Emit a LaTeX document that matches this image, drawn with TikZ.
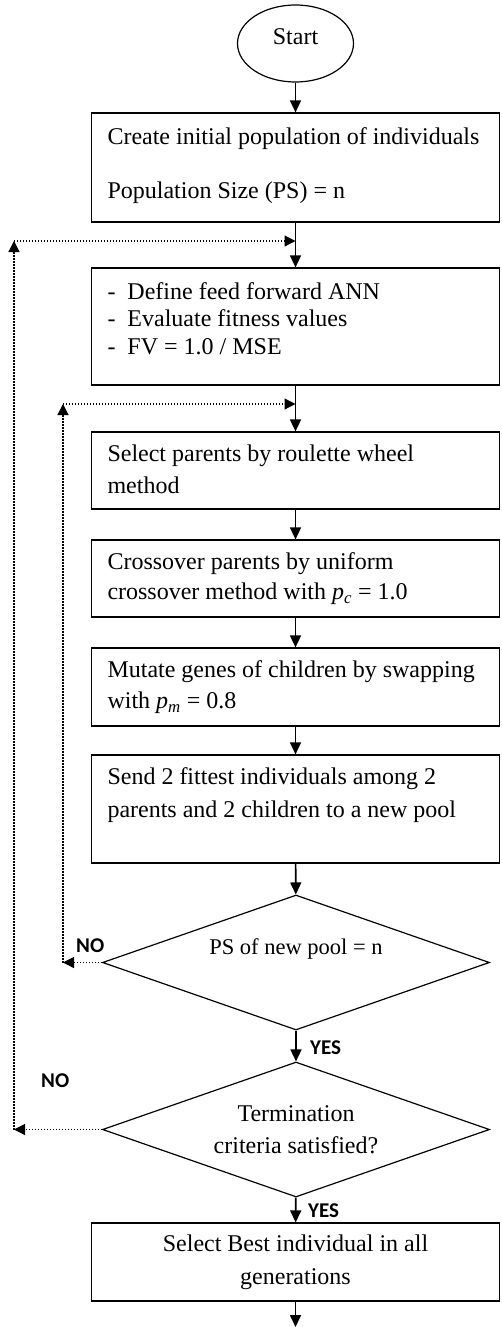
\documentclass[tikz,border=0pt]{standalone}
\usepackage{fontspec}
\setmainfont{Liberation Serif}
\newfontfamily\answersans{Carlito}
\usepackage{tikz}
\usetikzlibrary{arrows.meta, shapes.geometric}
\newcommand{\lift}[1]{\rule[-#1]{0pt}{#1}}
\newcommand{\itemdash}{\makebox[20pt][l]{-}}

\begin{document}
\begin{tikzpicture}[x=1pt, y=-1pt,
  stepbox/.style={draw, line width=1.2pt, inner xsep=16pt, inner ysep=2pt, text width=376pt, align=flush left, font=\fontsize{24}{27.5}\selectfont},
  decision/.style={diamond, draw, line width=1.2pt, aspect=2.87, minimum width=387pt, minimum height=135pt, inner sep=2pt, align=flush center, font=\fontsize{24}{32}\selectfont},
  startnode/.style={ellipse, draw, line width=1.2pt, minimum width=116pt, minimum height=77pt, inner sep=2pt, font=\fontsize{24}{27.5}\selectfont},
  flow/.style={-{Triangle[length=12pt,width=11pt]}, line width=1.6pt},
  loopline/.style={-{Triangle[length=11pt,width=11pt]}, line width=1.2pt, dash pattern=on 1.2pt off 1.8pt},
  answer/.style={font=\answersans\bfseries\fontsize{21}{21}\selectfont, inner sep=0pt, anchor=base west}]
\useasboundingbox (0,0) rectangle (501,1327);

% main column
\node[startnode] (start) at (295.5,43.5) {Start\lift{13.4pt}};
\node[stepbox, minimum height=109pt, font=\fontsize{24}{27}\selectfont] (init) at (295.5,167.5)
  {Create initial population of individuals\\[27pt]Population Size (PS) = n\lift{9.4pt}};
\node[stepbox, minimum height=117pt] (eval) at (295.5,326.5)
  {\itemdash Define feed forward ANN\\\itemdash Evaluate fitness values\\\itemdash FV = 1.0 / MSE\lift{16.4pt}};
\node[stepbox, minimum height=77pt, font=\fontsize{24}{32}\selectfont] (select) at (295.5,470.5)
  {Select parents by roulette wheel\\method\lift{3.4pt}};
\node[stepbox, minimum height=77pt, font=\fontsize{24}{30}\selectfont] (cross) at (295.5,578.5)
  {Crossover parents by uniform\\crossover method with \textit{p}\textsubscript{\textit{c}} = 1.0};
\node[stepbox, minimum height=78pt, font=\fontsize{24}{31}\selectfont] (mutate) at (295.5,687)
  {Mutate genes of children by swapping\\with \textit{p}\textsubscript{\textit{m}} = 0.8};
\node[stepbox, minimum height=108pt, font=\fontsize{24}{33}\selectfont] (send) at (295.5,809)
  {Send 2 fittest individuals among 2\\parents and 2 children to a new pool\lift{33.4pt}};
\node[decision, font=\fontsize{22.5}{30}\selectfont] (poolchk) at (296,962.5) {PS of new pool = n\lift{31pt}};
\node[decision] (termchk) at (296,1129.5) {Termination\\criteria satisfied?};
\node[stepbox, minimum height=78pt, align=flush center, font=\fontsize{24}{33}\selectfont] (best) at (295.5,1262)
  {Select Best individual in all\\generations};
\coordinate (finish) at (295.5,1327);

% loop points
\coordinate (joinA) at (295.5,241);
\coordinate (joinB) at (295.5,404);
\coordinate (outerTop) at (14,241);
\coordinate (outerLow) at (14,1129.5);
\coordinate (innerTop) at (63,404);
\coordinate (innerLow) at (63,962.5);

\draw[flow] (start) -- (init);
\draw[flow] (init) -- (eval);
\draw[flow] (eval) -- (select);
\draw[flow] (select) -- (cross);
\draw[flow] (cross) -- (mutate);
\draw[flow] (mutate) -- (send);
\draw[flow] (send) -- (poolchk);
\draw[flow] (poolchk) -- (termchk);
\draw[flow] (termchk) -- (best);
\draw[flow] (best) -- (finish);

% dotted feedback
\draw[loopline] (poolchk.west) -- (innerLow);
\draw[loopline] (innerLow) -- (innerTop);
\draw[loopline] (innerTop) -- (joinB);
\draw[loopline] (termchk.west) -- (outerLow);
\draw[loopline] (outerLow) -- (outerTop);
\draw[loopline] (outerTop) -- (joinA);

\node[answer] (noPool) at (76,952) {NO};
\node[answer] (yesPool) at (310,1054) {YES};
\node[answer] (noTerm) at (41,1087) {NO};
\node[answer] (yesTerm) at (308,1217) {YES};
\end{tikzpicture}
\end{document}
